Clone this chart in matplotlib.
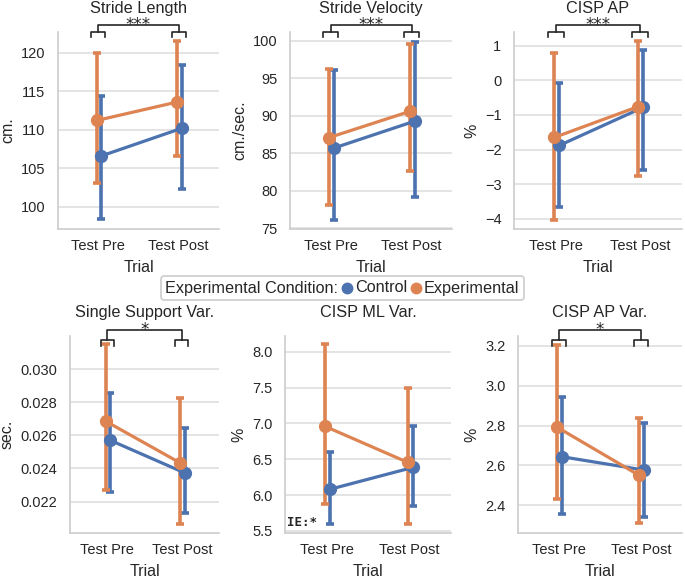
import numpy as np
import matplotlib
matplotlib.use("Agg")
import matplotlib.pyplot as plt
from matplotlib.lines import Line2D
from matplotlib.offsetbox import AnchoredOffsetbox, HPacker, TextArea, DrawingArea

plt.rcParams['font.family'] = ['Liberation Sans', 'DejaVu Sans']
plt.rcParams['text.color'] = '.15'
plt.rcParams['axes.labelcolor'] = '.15'
plt.rcParams['xtick.color'] = '.15'
plt.rcParams['ytick.color'] = '.15'

trials = ["Test Pre", "Test Post"]
conditions = ["Control", "Experimental"]
titles = ["Stride Length", "Stride Velocity", "CISP AP",
          "Single Support Var.", "CISP ML Var.", "CISP AP Var."]
ylabels = ["cm.", "cm./sec.", "%", "sec.", "%", "%"]
stars = ["***", "***", "***", "*", None, "*"]

# means and CI limits, [pre, post]
ctrl_mean = [[106.6, 110.2], [85.7, 89.3], [-1.88, -0.78],
             [0.0257, 0.02373], [6.08, 6.385], [2.643, 2.576]]
ctrl_low = [[98.35, 102.3], [76.1, 79.2], [-3.67, -2.59],
            [0.0226, 0.02132], [5.60, 5.845], [2.355, 2.341]]
ctrl_high = [[114.4, 118.35], [96.1, 99.9], [-0.085, 0.876],
             [0.02855, 0.02642], [6.60, 6.97], [2.942, 2.814]]
exp_mean = [[111.2, 113.6], [87.1, 90.6], [-1.65, -0.76],
            [0.02685, 0.02433], [6.96, 6.455], [2.791, 2.549]]
exp_low = [[103.1, 106.6], [78.1, 82.7], [-4.02, -2.75],
           [0.02269, 0.02064], [5.87, 5.60], [2.429, 2.308]]
exp_high = [[119.96, 121.5], [96.3, 99.6], [0.78, 1.13],
            [0.0315, 0.02827], [8.11, 7.49], [3.205, 2.838]]

ylims = [(97.1, 122.7), (74.9, 101.2), (-4.29, 1.39),
         (0.0201, 0.0320), (5.47, 8.22), (2.26, 3.25)]
yticks = [np.arange(100, 121, 5), np.arange(75, 101, 5), np.arange(-4, 2, 1),
          np.arange(0.022, 0.0305, 0.002), np.arange(5.5, 8.05, 0.5),
          np.arange(2.4, 3.25, 0.2)]
ydecimals = [0, 0, 0, 3, 1, 1]

colors = {"Control": "#4C72B0", "Experimental": "#DD8452"}
offsets = {"Control": 0.04, "Experimental": -0.02}

W, H = 685, 580
# axes boxes in pixels: left, right, top, bottom
boxes = [(58, 219, 32, 229), (290, 452, 32, 229), (514, 682, 32, 229),
         (70, 219, 336, 533), (285, 451, 336, 533), (518, 682, 336, 533)]

fig = plt.figure(figsize=(W / 100, H / 100), dpi=100)

for i in range(6):
    l, r, t, b = boxes[i]
    ax = fig.add_axes([l / W, 1 - b / H, (r - l) / W, (b - t) / H])
    x = np.arange(len(trials))
    series = [("Control", ctrl_mean[i], ctrl_low[i], ctrl_high[i]),
              ("Experimental", exp_mean[i], exp_low[i], exp_high[i])]
    for name, m, lo, hi in series:
        m = np.array(m); lo = np.array(lo); hi = np.array(hi)
        ax.errorbar(x + offsets[name], m, yerr=[m - lo, hi - m],
                    fmt='o-', color=colors[name], ms=8.5, lw=2.3,
                    elinewidth=2.6, capsize=3, capthick=2.6, zorder=3)
    ax.set_xlim(-0.5, 1.5)
    ax.set_ylim(*ylims[i])
    ax.set_xticks(x)
    ax.set_xticklabels(trials)
    ax.set_yticks(yticks[i])
    ax.set_yticklabels([f"{v:.{ydecimals[i]}f}".replace("-", "\u2212")
                        for v in yticks[i]])
    ax.tick_params(axis='both', length=0, labelsize=10.5)
    ax.tick_params(axis='y', pad=9)
    ax.tick_params(axis='x', pad=7.5)
    ax.grid(axis='y', color='#dddddd', lw=1.1)
    ax.set_axisbelow(True)
    for s in ['top', 'right']:
        ax.spines[s].set_visible(False)
    for s in ['left', 'bottom']:
        ax.spines[s].set_color('#cccccc')
        ax.spines[s].set_linewidth(1.2)
    ax.set_xlabel("Trial", fontsize=11.5, labelpad=5)
    ax.set_ylabel(ylabels[i], fontsize=11.5)
    ax.set_title(titles[i], fontsize=11.7, pad=14)

    if stars[i]:
        tr = ax.get_xaxis_transform()
        if i < 3:
            y_small, y_tick, y_big = 1.0, 0.975, 1.034
        else:
            y_small, y_tick, y_big = 0.98, 0.947, 1.03
        for c in x:
            ax.plot([c - 0.09, c - 0.09, c + 0.09, c + 0.09],
                    [y_tick, y_small, y_small, y_tick],
                    color='.15', lw=1.2, transform=tr, clip_on=False)
        ax.plot([0, 0, 1, 1], [y_small, y_big, y_big, y_small],
                color='.15', lw=1.2, transform=tr, clip_on=False)
        ax.text(0.5, y_big, stars[i], transform=tr, ha='center', va='center',
                fontsize=12, family='DejaVu Sans', color='.15')
    if i == 4:
        ax.text(0.012, 0.02, "IE:*", transform=ax.transAxes, ha='left',
                va='bottom', fontsize=9, fontweight='bold',
                family='DejaVu Sans Mono', color='.15')

# legend in one row: title followed by the two entries
items = [TextArea("Experimental Condition:", textprops=dict(fontsize=11.7, color='.15'))]
for name in conditions:
    da = DrawingArea(8, 8, 0, 0)
    da.add_artist(Line2D([4], [4], marker='o', ms=7.5, ls='',
                         color=colors[name]))
    items += [da, TextArea(name, textprops=dict(fontsize=11.7, color='.15'))]
box = HPacker(children=items, sep=2, align='center', pad=0)
leg = AnchoredOffsetbox(loc='center', child=box, pad=0.3, borderpad=0,
                        frameon=True, bbox_to_anchor=(0.5, 1 - 288 / H),
                        bbox_transform=fig.transFigure)
leg.patch.set_edgecolor('#cccccc')
leg.patch.set_linewidth(1.2)
leg.patch.set_boxstyle("round,pad=0,rounding_size=0.2")
fig.add_artist(leg)

fig.savefig("out.png", dpi=100)
